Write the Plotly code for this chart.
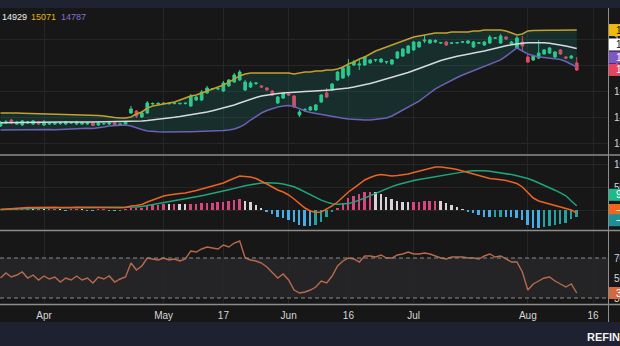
import plotly.graph_objects as go

# ---------------- data ----------------
tick_pos = [8, 30, 41, 53, 64, 76, 97, 109]
tick_text = ["Apr", "May", "17", "Jun", "16", "Jul", "Aug", "16"]

open_ = [14333,14356,14379,14348,14341,14356,14348,14364,14341,14348,14348,14352,14348,14357,14348,14348,14348,14356,14341,14350,14348,14356,14341,14348,
         14433,14448,14402,14433,14502,14503,14505,14504,14505,14504,14505,14487,14533,14533,14587,14618,14618,14602,14641,14671,14687,14610,14633,14660,
         14641,14625,14602,14510,14548,14579,14564,14418,14456,14456,14456,14518,14587,14610,14687,14702,14725,14802,14802,14802,14818,14841,14825,14825,
         14810,14856,14871,14894,14918,14941,14987,14971,14979,14971,14979,14969,14971,14977,14971,14941,14970,14956,14971,15008,14971,15017,14964,14933,
         14979,14864,14841,14856,14887,14894,14864,14918,14864,14856,14818]
high = [14372,14379,14387,14372,14379,14372,14379,14372,14379,14364,14364,14364,14372,14364,14372,14364,14364,14364,14364,14356,14364,14364,14356,14372,
        14487,14456,14448,14525,14515,14514,14515,14512,14514,14512,14515,14579,14564,14610,14641,14625,14628,14679,14694,14741,14764,14687,14679,14671,
        14648,14633,14610,14564,14594,14587,14571,14456,14471,14487,14502,14579,14625,14664,14756,14794,14848,14841,14848,14871,14848,14848,14856,14833,
        14848,14910,14933,14956,14987,14987,15033,15002,15000,14979,14987,14979,14979,14987,14994,14987,14979,14987,15033,15017,15041,15025,14987,15025,
        15025,14879,14879,14994,14925,14941,14910,14925,14871,14879,14864]
low = [14325,14348,14348,14341,14333,14348,14341,14341,14333,14341,14341,14341,14341,14348,14341,14341,14341,14333,14333,14341,14341,14333,14333,14341,
       14425,14395,14395,14425,14497,14498,14500,14499,14500,14499,14500,14479,14525,14525,14579,14610,14610,14594,14633,14664,14679,14602,14625,14648,
       14625,14602,14564,14502,14541,14564,14471,14402,14441,14448,14448,14510,14548,14602,14679,14694,14710,14794,14764,14794,14810,14825,14818,14810,
       14802,14848,14864,14887,14910,14933,14971,14964,14971,14964,14948,14964,14964,14971,14964,14933,14964,14948,14964,15002,14964,14994,14956,14925,
       14902,14818,14833,14848,14879,14887,14856,14879,14848,14848,14756]
close = [14356,14364,14356,14364,14372,14364,14372,14348,14364,14356,14356,14356,14364,14358,14364,14356,14356,14337,14356,14352,14356,14337,14348,14364,
         14464,14410,14433,14510,14506,14507,14508,14507,14508,14507,14508,14564,14556,14594,14625,14621,14620,14664,14687,14725,14748,14671,14664,14664,
         14633,14610,14571,14556,14587,14571,14479,14441,14459,14479,14495,14571,14556,14656,14748,14779,14794,14825,14810,14864,14841,14844,14848,14828,
         14841,14902,14925,14948,14979,14979,14994,14994,14990,14974,14956,14972,14975,14980,14987,14979,14973,14979,15017,15011,15025,15002,14979,15010,
         14948,14825,14871,14894,14918,14933,14902,14887,14856,14871,14764]

bb_upper = [14433,14434,14432,14433,14431,14430,14427,14425,14424,14425,14423,14422,14421,14420,14419,14418,14417,14416,14414,14410,14402,14398,14395,14395,
            14402,14425,14441,14471,14487,14495,14502,14510,14518,14533,14548,14564,14571,14587,14602,14618,14633,14648,14671,14694,14718,14733,14741,
            14741,14743,14741,14740,14739,14740,14741,
            14733,14741,14748,14748,14756,14756,14764,14764,14771,
            14787,14810,14825,14848,14864,14887,14910,14925,14941,14956,14971,14987,15002,15017,15025,15033,15041,15048,
            15048,15048,15056,15056,15056,15056,15064,15064,15071,15071,15071,15071,
            15064,15048,15033,15041,15064,
            15068,15070,15072,15070,15069,15070,15071,15072,15071]
bb_basis = [14358,14359,14360,14361,14360,14360,14361,14362,14361,14362,14363,
            14364,14364,14365,14364,14364,14363,14363,14364,14364,14365,14364,14364,14364,
            14365,14368,14372,14375,14379,14385,14390,14395,14400,14406,14412,14419,14425,14433,14441,14450,14460,14471,14483,14495,14510,14525,14541,14552,
            14564,14571,14579,14583,14587,14591,14594,14596,14598,14601,14602,14605,14608,14611,14615,14620,14625,14633,14641,14650,14660,14671,14683,14694,
            14706,14718,14729,14744,14760,14775,14791,14806,14825,14837,14848,14860,14869,14877,14887,14894,14902,14910,14921,14931,14941,14950,14957,14965,
            14970,14973,14974,14975,14973,14970,14964,14956,14948,14939,14929]
bb_lower = [14302,14303,14301,14302,14304,14303,
            14306,14305,14307,14306,14305,14307,14308,
            14312,14314,14313,14315,14314,14318,
            14325,14333,14337,14341,14341,
            14333,14318,14306,14295,
            14289,14288,14287,14286,14286,14287,14288,14289,14290,
            14290,14291,14293,14295,14299,14302,
            14310,14325,14348,14379,14406,14433,14452,14468,14479,14487,14491,14483,14464,14448,14437,14429,14421,14414,14406,14398,14392,14387,14383,14379,
            14379,14379,14383,14387,14395,14410,14433,14456,14479,14502,14525,14556,14587,14618,14641,14664,14687,14706,14725,14741,14756,14775,14794,14810,
            14825,14841,14871,14902,14933,14910,14887,14875,14864,14860,14856,14852,14845,14829,14810,14787]

macd = [1.1,2.2,3.3,4.4,4.9,5.6,
        5.5,6.0,5.2,5.8,6.2,5.6,5.0,5.4,6.0,5.8,5.1,4.9,5.3,5.7,5.2,4.6,4.9,5.6,
        8.9,10.0,12.2,17.8,22.2,26.6,31.1,33.3,35.5,36.6,37.7,40.0,43.3,46.6,50.0,53.3,56.6,59.9,65.5,71.0,75.5,74.4,73.3,69.9,64.4,57.7,51.1,44.4,
        40.0,33.3,24.4,13.3,4.4,-2.2,-5.6,-4.4,2.2,8.9,17.8,28.9,40.0,48.8,57.7,66.6,72.2,76.6,78.8,76.6,75.5,76.6,77.7,79.9,83.3,86.6,89.9,93.2,
        95.5,95.5,94.4,92.1,89.9,86.6,83.3,79.9,75.5,72.2,69.9,68.8,67.7,65.5,62.2,58.8,51.1,37.7,26.6,20.0,16.7,14.4,11.1,6.7,3.3,0.0,-6.7]
signal = [1.1,1.6,2.2,2.7,3.1,3.6,
          4.0,4.3,4.5,4.7,4.9,5.0,5.1,5.1,5.2,5.3,5.3,5.2,5.2,5.3,5.3,5.2,5.1,5.2,
          5.9,6.7,7.8,9.8,12.0,14.4,16.9,19.2,21.4,23.4,25.3,27.2,29.4,31.8,34.2,36.7,39.4,41.8,44.8,48.0,51.5,54.0,56.2,58.3,59.8,60.5,60.5,59.6,
          57.9,55.5,51.6,46.0,40.0,33.5,27.5,22.0,17.5,14.0,12.6,12.6,14.2,17.5,21.5,26.5,31.8,37.0,42.5,47.5,52.0,56.0,59.5,62.8,65.5,67.8,70.0,72.2,
          74.4,76.6,78.8,81.0,83.0,85.0,86.3,87.2,87.5,87.0,86.0,84.5,82.8,80.8,78.6,76.2,73.5,70.0,65.5,60.5,55.5,50.0,44.0,38.0,31.5,20.0,9.3]

rsi = [50,55,51,53,56,50,53,48,52,49,51,46,50,48,52,48,50,45,51,49,52,46,49,51,
       65,58,62,70,69,68,70,68,69,67,69,77,76,79,81,80,79,83,81,85,87,70,68,67,65,61,55,50,54,48,38,35,36,38,41,47,45,52,62,67,70,69,66,72,72,71,73,70,
       70,73,74,76,74,74,75,74,72,70,69,71,71,71,70,70,69,72,74,71,72,69,66,66,56,38,44,47,50,51,47,44,41,44,35]

price_ticks = [14200, 14400, 14600, 14800, 15000]
macd_ticks = [0, 50, 100]
rsi_ticks = [30, 50, 70]

# ---------------- styling ----------------
BG = "#171717"
GRID = "#262626"
SEP = "#8d8d8d"
TXT = "#d6d6d6"
FONT = "Liberation Sans, Arial, sans-serif"
UP = "#2fd18f"
DOWN = "#ea4667"
H = 346.0
W = 620.0


def py(px):  # pixel row -> paper fraction
    return 1 - px / H


def pxx(px):
    return px / W


idx = list(range(len(close)))
hist = [m - s for m, s in zip(macd, signal)]
hcol = []
for i, h in enumerate(hist):
    prev = hist[i - 1] if i > 0 else 0
    if h >= 0:
        hcol.append("#d9457c" if h > prev else "#d9d2d8")
    else:
        hcol.append("#45aee8" if h < prev else "#27a0a0")

fig = go.Figure()

# Bollinger band fill + lines
fig.add_trace(go.Scatter(x=idx, y=bb_lower, mode="lines", line=dict(color="#6a62b4", width=1.5),
                         hoverinfo="skip", xaxis="x", yaxis="y"))
fig.add_trace(go.Scatter(x=idx, y=bb_upper, mode="lines", line=dict(color="#c4a12a", width=1.5),
                         fill="tonexty", fillcolor="rgba(30,160,150,0.17)", hoverinfo="skip", xaxis="x", yaxis="y"))
fig.add_trace(go.Scatter(x=idx, y=bb_basis, mode="lines", line=dict(color="#d5dadd", width=1.5),
                         hoverinfo="skip", xaxis="x", yaxis="y"))
fig.add_trace(go.Candlestick(x=idx, open=open_, high=high, low=low, close=close,
                             increasing=dict(line=dict(color=UP, width=1), fillcolor=UP),
                             decreasing=dict(line=dict(color=DOWN, width=1), fillcolor=DOWN),
                             whiskerwidth=0, hoverinfo="skip", xaxis="x", yaxis="y"))

# MACD
fig.add_trace(go.Bar(x=idx, y=hist, marker=dict(color=hcol, line=dict(width=0)), width=0.36,
                     hoverinfo="skip", xaxis="x", yaxis="y2"))
fig.add_trace(go.Scatter(x=idx, y=signal, mode="lines", line=dict(color="#1fa57c", width=1.5),
                         hoverinfo="skip", xaxis="x", yaxis="y2"))
fig.add_trace(go.Scatter(x=idx, y=macd, mode="lines", line=dict(color="#ea6423", width=1.5),
                         hoverinfo="skip", xaxis="x", yaxis="y2"))

# RSI
fig.add_trace(go.Scatter(x=idx, y=rsi, mode="lines", line=dict(color="#b86a4c", width=1.4),
                         hoverinfo="skip", xaxis="x", yaxis="y3"))

shapes = []
# RSI band and dashed levels
shapes.append(dict(type="rect", xref="x domain", yref="y3", x0=0, x1=1, y0=30, y1=70,
                   fillcolor="rgba(120,120,150,0.13)", line=dict(width=0), layer="below"))
for lv in (70, 30):
    shapes.append(dict(type="line", xref="x domain", yref="y3", x0=0, x1=1, y0=lv, y1=lv,
                       line=dict(color="#8a8a8a", width=1, dash="4px,3px")))
# top strip and bottom bar
shapes.append(dict(type="rect", xref="paper", yref="paper", x0=0, x1=1, y0=py(8), y1=1,
                   fillcolor="#1e2231", line=dict(width=0), layer="above"))
shapes.append(dict(type="rect", xref="paper", yref="paper", x0=0, x1=1, y0=0, y1=py(322),
                   fillcolor="#1e2130", line=dict(width=0), layer="above"))
# separators
for ypx in (155, 230.5, 304.5):
    shapes.append(dict(type="line", xref="paper", yref="paper", x0=0, x1=1, y0=py(ypx), y1=py(ypx),
                       line=dict(color=SEP, width=1.5), layer="above"))
shapes.append(dict(type="line", xref="paper", yref="paper", x0=pxx(608.5), x1=pxx(608.5),
                   y0=py(322), y1=py(8), line=dict(color=SEP, width=1), layer="above"))

annotations = []
# legend values
leg = [(f"{bb_basis[-1]}", "#f0f0f0", 0), (f"{bb_upper[-1]}", "#e3b51c", 29), (f"{bb_lower[-1]}", "#8a6fd0", 59)]
for t, c, xp in leg:
    annotations.append(dict(text=t, x=pxx(xp), y=py(17), xref="paper", yref="paper", xanchor="left",
                            yanchor="middle", showarrow=False, font=dict(family=FONT, size=9, color=c)))


def tag(val, yref, yshift, bg, fg):
    # price-scale label: box anchored at the value, shifted to stack like the reference
    shapes.append(dict(type="rect", xref="paper", yref=yref, x0=pxx(609), x1=1.0,
                       ysizemode="pixel", yanchor=val, y0=yshift - 6, y1=yshift + 6,
                       fillcolor=bg, line=dict(width=0), layer="above"))
    txt = f"{val:.2f}".replace("-", "\u2212") if isinstance(val, float) else str(val)
    annotations.append(dict(text=txt, x=pxx(613.5), y=val, xref="paper", yref=yref, yshift=yshift,
                            xanchor="left", yanchor="middle", showarrow=False,
                            font=dict(family=FONT, size=10, color=fg)))


tag(bb_upper[-1], "y", 0, "#f0b90b", "#111111")
tag(bb_basis[-1], "y", 4, "#ffffff", "#111111")
tag(bb_lower[-1], "y", 9.5, "#7e57c2", "#ffffff")
tag(close[-1], "y", 0, "#e8435f", "#ffffff")
tag(float(signal[-1]), "y2", 11, "#1fb98b", "#ffffff")
tag(float(macd[-1]), "y2", 3, "#f0651a", "#ffffff")
tag(float(round(hist[-1], 2)), "y2", -3, "#1e8f96", "#ffffff")
tag(float(rsi[-1]), "y3", 0, "#d4683e", "#ffffff")

annotations.append(dict(text="<b>REFINITIV</b>", x=pxx(585), y=py(337), xref="paper", yref="paper",
                        xanchor="left", yanchor="middle", showarrow=False,
                        font=dict(family=FONT, size=11, color="#f2f2f2")))

yax_common = dict(side="right", anchor="x", showline=False, zeroline=False, ticks="",
                  gridcolor=GRID, gridwidth=1, tickfont=dict(family=FONT, size=10, color=TXT),
                  fixedrange=True, automargin=False, tickformat="d", ticklabelstandoff=5)

fig.update_layout(
    width=620, height=346, margin=dict(l=0, r=0, t=0, b=0, autoexpand=False),
    paper_bgcolor=BG, plot_bgcolor=BG, showlegend=False, bargap=0,
    xaxis=dict(domain=[0, pxx(608)], range=[-0.094, 111.75], anchor="y3",
               tickvals=tick_pos, ticktext=tick_text, showgrid=True, gridcolor=GRID,
               zeroline=False, showline=False, ticks="", automargin=False, ticklabelstandoff=5,
               tickfont=dict(family=FONT, size=10, color=TXT),
               rangeslider=dict(visible=False), fixedrange=True),
    yaxis=dict(domain=[py(154), py(8)], range=[14117.7, 15240.5], tickvals=price_ticks, **yax_common),
    yaxis2=dict(domain=[py(230), py(156)], range=[-44.4, 119.9], tickvals=macd_ticks, **yax_common),
    yaxis3=dict(domain=[py(303), py(231)], range=[25, 97], tickvals=rsi_ticks,
                **{**yax_common, "showgrid": False}),
    shapes=shapes, annotations=annotations,
)

fig.write_html("out.html")
